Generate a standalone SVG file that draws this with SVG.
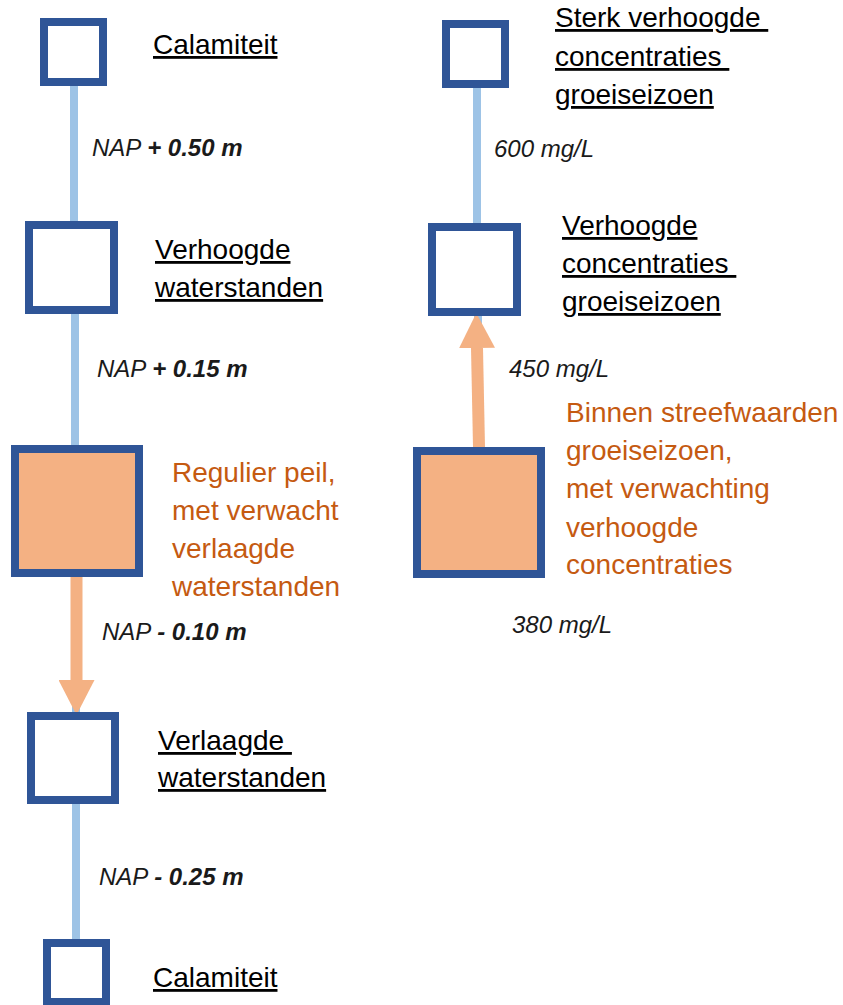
<svg xmlns="http://www.w3.org/2000/svg" width="843" height="1005" viewBox="0 0 843 1005">
<style>
.box{fill:#ffffff;stroke:#2f5597;stroke-width:8}
.hot{fill:#f4b183;stroke:#2f5597;stroke-width:8}
.link{stroke:#9dc3e6;stroke-width:8;fill:none}
.arrow{stroke:#f4b183;stroke-width:12;fill:none;marker-end:url(#ah)}
.lbl{font-family:"Liberation Sans",Arial,sans-serif;font-size:28px;fill:#000000;text-decoration:underline}
.olbl{font-family:"Liberation Sans",Arial,sans-serif;font-size:28px;fill:#c55a11}
.val{font-family:"Liberation Sans",Arial,sans-serif;font-size:24px;font-style:italic;fill:#1a1a1a}
.b{font-weight:bold}
</style>
<defs>
<marker id="ah" markerUnits="userSpaceOnUse" markerWidth="35" markerHeight="36" viewBox="0 -18 35 36" refX="0" refY="0" orient="auto">
<path d="M0,-18 L35,0 L0,18 z" fill="#f4b183"/>
</marker>
</defs>
<g id="connectors">
<line class="link" x1="74" y1="86" x2="74" y2="221"/>
<line class="link" x1="75" y1="314" x2="75" y2="445"/>
<line class="link" x1="76" y1="577" x2="76" y2="712"/>
<line class="link" x1="76" y1="804" x2="76" y2="939"/>
<line class="link" x1="477" y1="88" x2="477" y2="223"/>
<line class="link" x1="478" y1="316" x2="478" y2="447"/>
<line class="arrow" x1="76.5" y1="577" x2="76.5" y2="680"/>
<line class="arrow" x1="479" y1="447" x2="477" y2="348"/>
<text class="val" x="92" y="156">NAP <tspan class="b">+ 0.50 m</tspan></text>
<text class="val" x="97" y="377">NAP <tspan class="b">+ 0.15 m</tspan></text>
<text class="val" x="102" y="640">NAP <tspan class="b">- 0.10 m</tspan></text>
<text class="val" x="99" y="885">NAP <tspan class="b">- 0.25 m</tspan></text>
<text class="val" x="494" y="157">600 mg/L</text>
<text class="val" x="509" y="377">450 mg/L</text>
<text class="val" x="512" y="633">380 mg/L</text>
</g>
<g id="calamiteit-hoog">
<rect class="box" x="44" y="22" width="59" height="60"/>
<text class="lbl" x="153" y="54">Calamiteit</text>
</g>
<g id="verhoogde-waterstanden">
<rect class="box" x="29" y="225" width="85" height="85"/>
<text class="lbl" x="155" y="259">Verhoogde</text>
<text class="lbl" x="155" y="297">waterstanden</text>
</g>
<g id="regulier-peil">
<rect class="hot" x="15" y="449" width="124" height="124"/>
<text class="olbl"><tspan x="172" y="482">Regulier peil,</tspan><tspan x="172" y="520">met verwacht</tspan><tspan x="172" y="558">verlaagde</tspan><tspan x="172" y="596">waterstanden</tspan></text>
</g>
<g id="verlaagde-waterstanden">
<rect class="box" x="31" y="716" width="84" height="84"/>
<text class="lbl" x="158" y="750" xml:space="preserve">Verlaagde </text>
<text class="lbl" x="158" y="787">waterstanden</text>
</g>
<g id="calamiteit-laag">
<rect class="box" x="47" y="943" width="59" height="59"/>
<text class="lbl" x="153" y="987">Calamiteit</text>
</g>
<g id="sterk-verhoogde-concentraties">
<rect class="box" x="446" y="24" width="59" height="60"/>
<text class="lbl" x="555" y="27" xml:space="preserve">Sterk verhoogde </text>
<text class="lbl" x="555" y="66" xml:space="preserve">concentraties </text>
<text class="lbl" x="555" y="104">groeiseizoen</text>
</g>
<g id="verhoogde-concentraties">
<rect class="box" x="432" y="227" width="85" height="85"/>
<text class="lbl" x="562" y="235">Verhoogde</text>
<text class="lbl" x="562" y="273" xml:space="preserve">concentraties </text>
<text class="lbl" x="562" y="311">groeiseizoen</text>
</g>
<g id="binnen-streefwaarden">
<rect class="hot" x="417" y="451" width="124" height="123"/>
<text class="olbl"><tspan x="566" y="422">Binnen streefwaarden</tspan><tspan x="566" y="460">groeiseizoen,</tspan><tspan x="566" y="498">met verwachting</tspan><tspan x="566" y="537">verhoogde</tspan><tspan x="566" y="574">concentraties</tspan></text>
</g>
</svg>
